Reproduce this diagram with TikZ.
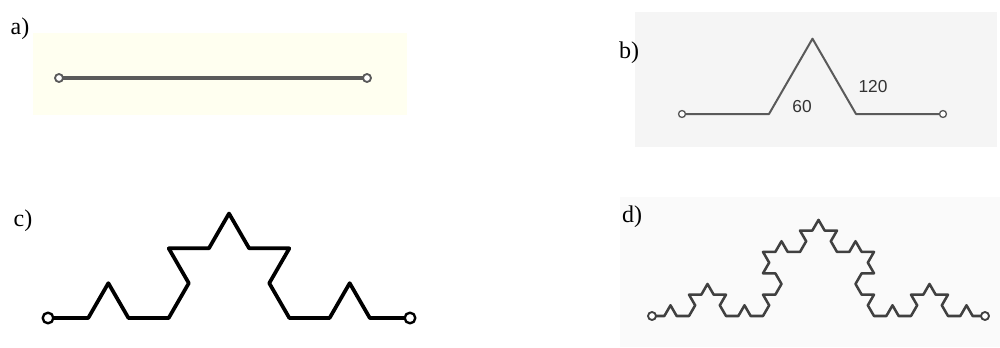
\documentclass[tikz,border=0pt]{standalone}
\usepackage{fontspec}
\setmainfont{Liberation Serif}
\newfontfamily\zahlfont{Liberation Sans}
\usetikzlibrary{
  lindenmayersystems % Für die Koch-Kurven
}

% Farben
\definecolor{hellgelb}{RGB}{255,255,240}
\definecolor{hellgrau}{RGB}{245,245,245}
\definecolor{blassgrau}{RGB}{250,250,250}
\definecolor{linie}{RGB}{90,90,90}

% Regel: jede Strecke wird zu vier Strecken
\pgfdeclarelindenmayersystem{Koch}{\rule{F -> F+F--F+F}}

\begin{document}
\begin{tikzpicture}[
      x=0.75pt, y=-0.75pt, % Pixel als Einheit
      line join=round,
      teil/.style={font=\fontsize{18}{20}\selectfont}, % Beschriftung a) bis d)
      winkel/.style={font=\zahlfont\fontsize{13}{14}\selectfont, text=black!80},
      ende/.style={draw=#1, fill=white},
      koch/.style={l-system={Koch, axiom=F, angle=60, #1}},
    ]

    % Rahmen
    \useasboundingbox (0,0) rectangle (1000,347);

    % Hintergründe
    \fill[hellgelb] (33,33) rectangle (407,115);
    \fill[hellgrau] (635,12) rectangle (997,147);
    \fill[blassgrau] (620,197) rectangle (1000,347);

    % Beschriftungen
    \node[teil] (la) at (20,29) {a)};
    \node[teil] (lb) at (629,53) {b)};
    \node[teil] (lc) at (23,221) {c)};
    \node[teil] (ld) at (632,217) {d)};

    % a) Strecke
    \coordinate (a1) at (59,78);
    \coordinate (a2) at (367,78);
    \draw[linie, line width=2.4pt] (a1) -- (a2);
    \foreach \p in {a1, a2}
    \draw[ende=linie, line width=1.4pt] (\p) circle[radius=3pt];

    % b) erster Schritt
    \coordinate (b1) at (682,114);
    \coordinate (b2) at (769,114);
    \coordinate (b3) at (812.5,38.7);
    \coordinate (b4) at (856,114);
    \coordinate (b5) at (943,114);
    \draw[linie, line width=1.5pt] (b1) -- (b2) -- (b3) -- (b4) -- (b5);
    \foreach \p in {b1, b5}
    \draw[ende=linie, line width=1pt] (\p) circle[radius=2.6pt];
    \node[winkel] (w60) at (802,107) {60};
    \node[winkel] (w120) at (873,87) {120};

    % c) zweiter Schritt
    \coordinate (c1) at (48,318);
    \coordinate (c2) at (410,318);
    \begin{scope}[shift={(c1)}, x=1pt, y=1pt]
      \draw[line width=2.8pt, koch={order=2, step=30.17pt}] (0,0) lindenmayer system;
    \end{scope}
    \foreach \p in {c1, c2}
    \draw[ende=black, line width=1.8pt] (\p) circle[radius=4pt];

    % d) dritter Schritt
    \coordinate (d1) at (652,316);
    \coordinate (d2) at (985,316);
    \begin{scope}[shift={(d1)}, x=1pt, y=1pt]
      \draw[black!75, line width=1.9pt, koch={order=3, step=9.25pt}] (0,0) lindenmayer system;
    \end{scope}
    \foreach \p in {d1, d2}
    \draw[ende=black!75, line width=1.4pt] (\p) circle[radius=3pt];

  \end{tikzpicture}
\end{document}
